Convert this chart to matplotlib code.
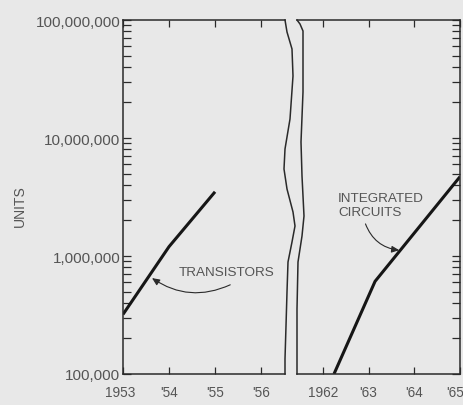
import matplotlib
matplotlib.use("Agg")
import matplotlib.pyplot as plt
from matplotlib.lines import Line2D
from matplotlib.ticker import FixedLocator, LogLocator, NullFormatter
from matplotlib.transforms import ScaledTranslation

plt.rcParams['font.family'] = ['Liberation Sans', 'DejaVu Sans']

# ---- data ----
trans_years = [1953, 1954, 1955]
trans_units = [3.2e5, 1.2e6, 3.5e6]
ic_years = [1962.24, 1963.14, 1965]
ic_units = [1.0e5, 6.1e5, 4.7e6]

left_ticks = [1953, 1954, 1955, 1956]
left_labels = ["1953", "'54", "'55", "'56"]
right_ticks = [1962, 1963, 1964, 1965]
right_labels = ["1962", "'63", "'64", "'65"]
y_ticks = [1e5, 1e6, 1e7, 1e8]
y_labels = ["100,000", "1,000,000", "10,000,000", "100,000,000"]

BG = '#e8e8e8'
INK = '#2a2a2a'
TXT = '#555555'
W, H = 464, 406

fig = plt.figure(figsize=(W / 100, H / 100), dpi=100, facecolor=BG)


def px_rect(x0, x1, ytop, ybot):
    return [x0 / W, 1 - ybot / H, (x1 - x0) / W, (ybot - ytop) / H]


axL = fig.add_axes(px_rect(123, 285, 21, 375))
axR = fig.add_axes(px_rect(297, 460, 21, 375))

for ax in (axL, axR):
    ax.set_facecolor(BG)
    ax.set_yscale('log')
    ax.set_ylim(1e5, 1e8)
    for s in ax.spines.values():
        s.set_color(INK)
        s.set_linewidth(1.1)

axL.set_xlim(1953, 1956.52)
axR.set_xlim(1961.43, 1965)

axL.spines['right'].set_visible(False)
axR.spines['left'].set_visible(False)

# y ticks
axL.yaxis.set_major_locator(FixedLocator(y_ticks))
axL.set_yticklabels(y_labels)
axL.yaxis.set_minor_locator(LogLocator(base=10, subs=range(2, 10)))
axL.yaxis.set_minor_formatter(NullFormatter())
axL.tick_params(axis='y', which='both', direction='in', left=True, right=False,
                length=5.5, width=0.9, color=INK, labelsize=11, labelcolor=TXT, pad=2)

axR.yaxis.set_major_locator(FixedLocator(y_ticks))
axR.yaxis.set_minor_locator(LogLocator(base=10, subs=range(2, 10)))
axR.yaxis.set_minor_formatter(NullFormatter())
axR.tick_params(axis='y', which='both', direction='in', left=False, right=True,
                labelleft=False, labelright=False, length=5.5, width=0.9, color=INK)

# x ticks
axL.set_xticks(left_ticks)
axL.set_xticklabels(left_labels)
axR.set_xticks(right_ticks)
axR.set_xticklabels(right_labels)
for ax in (axL, axR):
    ax.tick_params(axis='x', which='major', direction='in', top=True, bottom=True,
                   length=5, width=0.9, color=INK, labelsize=9.8, labelcolor=TXT, pad=8)
    ax.tick_params(axis='x', which='minor', bottom=False, top=False)

# nudge edge labels as in the reference
lab_first = axL.get_xticklabels()[0]
lab_first.set_transform(lab_first.get_transform() + ScaledTranslation(-3 / 100, 0, fig.dpi_scale_trans))
lab_last = axR.get_xticklabels()[-1]
lab_last.set_transform(lab_last.get_transform() + ScaledTranslation(-5 / 100, 0, fig.dpi_scale_trans))

# data lines
axL.plot(trans_years, trans_units, color='#161616', lw=2.2, solid_capstyle='butt')
axR.plot(ic_years, ic_units, color='#161616', lw=2.2, solid_capstyle='butt')

# annotations
axL.text(1954.2, 7.3e5, "TRANSISTORS", fontsize=9.7, color=TXT, ha='left', va='center')
axL.annotate("", xy=(1953.63, 6.5e5), xytext=(1955.33, 5.7e5),
             arrowprops=dict(arrowstyle='-|>,head_length=0.45,head_width=0.2',
                             connectionstyle='arc3,rad=-0.28', lw=0.8, color=INK,
                             shrinkA=0, shrinkB=0))

axR.text(1962.33, 2.7e6, "INTEGRATED\nCIRCUITS", fontsize=9.7, color=TXT,
         ha='left', va='center', linespacing=1.3)
axR.annotate("", xy=(1963.67, 1.12e6), xytext=(1962.93, 1.87e6),
             arrowprops=dict(arrowstyle='-|>,head_length=0.45,head_width=0.2',
                             connectionstyle='arc3,rad=0.3', lw=0.8, color=INK,
                             shrinkA=0, shrinkB=0))

# axis title
fig.text(20 / W, 1 - 206 / H, "UNITS", rotation=90, fontsize=10, color=TXT,
         ha='center', va='center')

# wavy break lines (decoration)
wave_left = [(285, 21), (287, 33), (292, 50), (293, 77), (290, 120), (285, 150),
             (284, 170), (287, 190), (293, 213), (295, 227), (292, 243), (288, 263),
             (287, 293), (286, 327), (285, 360), (285, 375)]
wave_right = [(297, 21), (300, 25), (303, 32), (303, 60), (303, 93), (301, 143),
              (302, 177), (303, 197), (304, 217), (302, 237), (298, 263), (297, 310),
              (297, 360), (297, 375)]
for pts in (wave_left, wave_right):
    xs = [p[0] / W for p in pts]
    ys = [1 - p[1] / H for p in pts]
    fig.add_artist(Line2D(xs, ys, transform=fig.transFigure, color=INK, lw=1.1))

fig.savefig("out.png", dpi=100, facecolor=BG)
